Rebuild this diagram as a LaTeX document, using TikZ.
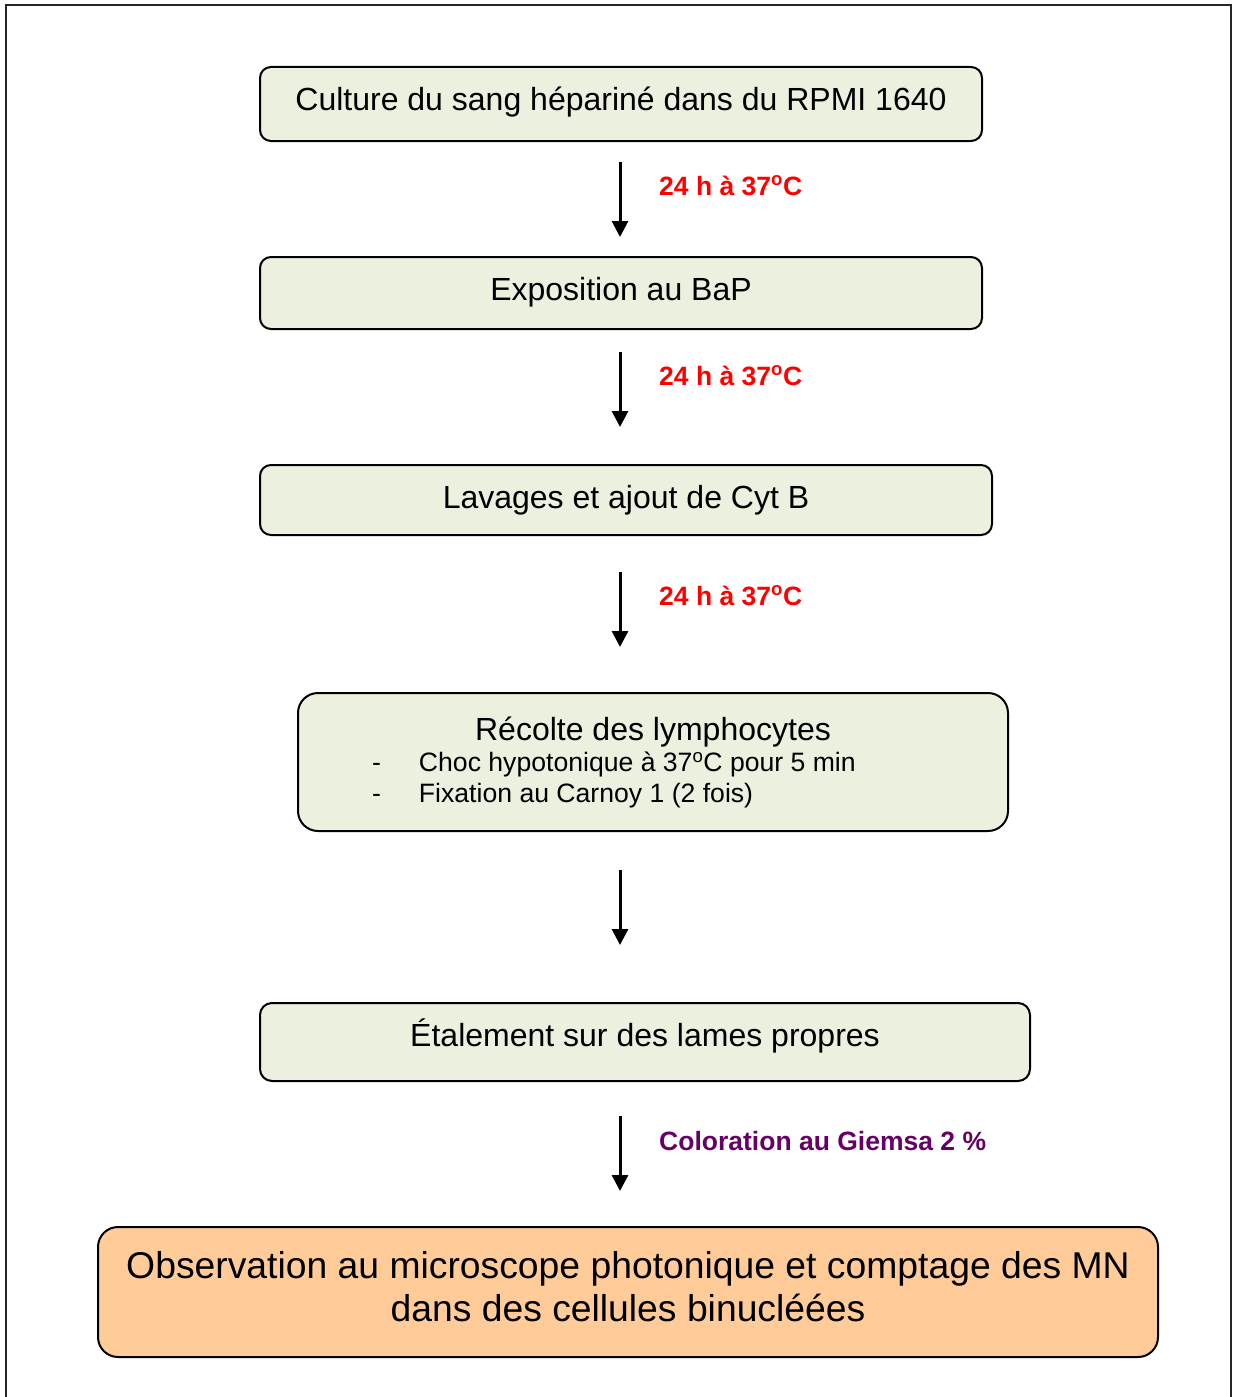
\documentclass[tikz,border=0pt]{standalone}
\usepackage{fontspec}
\setmainfont{Liberation Sans}
\usetikzlibrary{arrows.meta}
\definecolor{boxgreen}{HTML}{EBF1DE}
\definecolor{boxorange}{HTML}{FFCC99}
\definecolor{lblred}{HTML}{FF0000}
\definecolor{lblpurple}{HTML}{660066}
\begin{document}
\begin{tikzpicture}[x=1pt,y=-1pt,
  stepbox/.style={draw=black,line width=2pt,fill=boxgreen,inner sep=0pt,align=center,font=\fontsize{32}{38}\selectfont},
  endbox/.style={stepbox,fill=boxorange},
  endtext/.style={inner sep=0pt,align=center,font=\fontsize{37.3}{43}\selectfont},
  flow/.style={line width=3pt,-{Triangle[width=16pt,length=16pt]}},
  lbl/.style={anchor=base west,inner sep=0pt,font=\fontsize{26.5}{32}\selectfont\bfseries},
  frame/.style={line width=2.5pt,draw=black!85}]
\useasboundingbox (0,0) rectangle (1238,1397);
\draw[frame] (6,1397) -- (6,5) -- (1231,5) -- (1231,1397);
\coordinate (axis) at (620,0);

\node[stepbox,minimum width=722pt,minimum height=74pt,rounded corners=11pt,text height=24pt,text depth=11pt] (b1) at (621,104) {Culture du sang hépariné dans du RPMI 1640};
\node[stepbox,minimum width=722pt,minimum height=72pt,rounded corners=11pt,text height=24pt,text depth=9pt] (b2) at (621,293) {Exposition au BaP};
\node[stepbox,minimum width=732pt,minimum height=70pt,rounded corners=11pt,text height=24pt,text depth=7pt] (b3) at (626,500) {Lavages et ajout de Cyt B};
\node[stepbox,minimum width=710pt,minimum height=138pt,rounded corners=20pt,text width=554pt,align=flush left] (b4) at (653,762)
  {\spaceskip=0pt\xspaceskip=0pt
   {\centering Récolte des lymphocytes\par}
   {\raggedright\fontsize{26.6}{31}\selectfont\spaceskip=0pt\xspaceskip=0pt
   \hspace*{-4pt}\makebox[47pt][l]{-}Choc hypotonique à 37\textsuperscript{o}C pour 5 min\par
   \hspace*{-4pt}\makebox[47pt][l]{-}Fixation au Carnoy 1 (2 fois)\par}};
\node[stepbox,minimum width=770pt,minimum height=78pt,rounded corners=12pt,text height=24pt,text depth=15pt] (b5) at (645,1042) {Étalement sur des lames propres};
\node[endbox,minimum width=1060pt,minimum height=130pt,rounded corners=20pt] (b6) at (628,1292) {};
\node[endtext,yshift=5pt] (b6t) at (b6.center) {Observation au microscope photonique et comptage des MN\\dans des cellules binucléées};

\draw[flow,shorten <=20pt,shorten >=19pt] (b1.south -| axis) -- (b2.north -| axis);
\draw[flow,shorten <=22pt,shorten >=37pt] (b2.south -| axis) -- (b3.north -| axis);
\draw[flow,shorten <=36pt,shorten >=45pt] (b3.south -| axis) -- (b4.north -| axis);
\draw[flow,shorten <=38pt,shorten >=57pt] (b4.south -| axis) -- (b5.north -| axis);
\draw[flow,shorten <=34pt,shorten >=35pt] (b5.south -| axis) -- (b6.north -| axis);

\node[lbl,text=lblred] (l1) at (659,195) {24 h à 37\textsuperscript{o}C};
\node[lbl,text=lblred] (l2) at (659,385) {24 h à 37\textsuperscript{o}C};
\node[lbl,text=lblred] (l3) at (659,605) {24 h à 37\textsuperscript{o}C};
\node[lbl,text=lblpurple] (l4) at (659,1150) {Coloration au Giemsa 2 \%};
\end{tikzpicture}
\end{document}
